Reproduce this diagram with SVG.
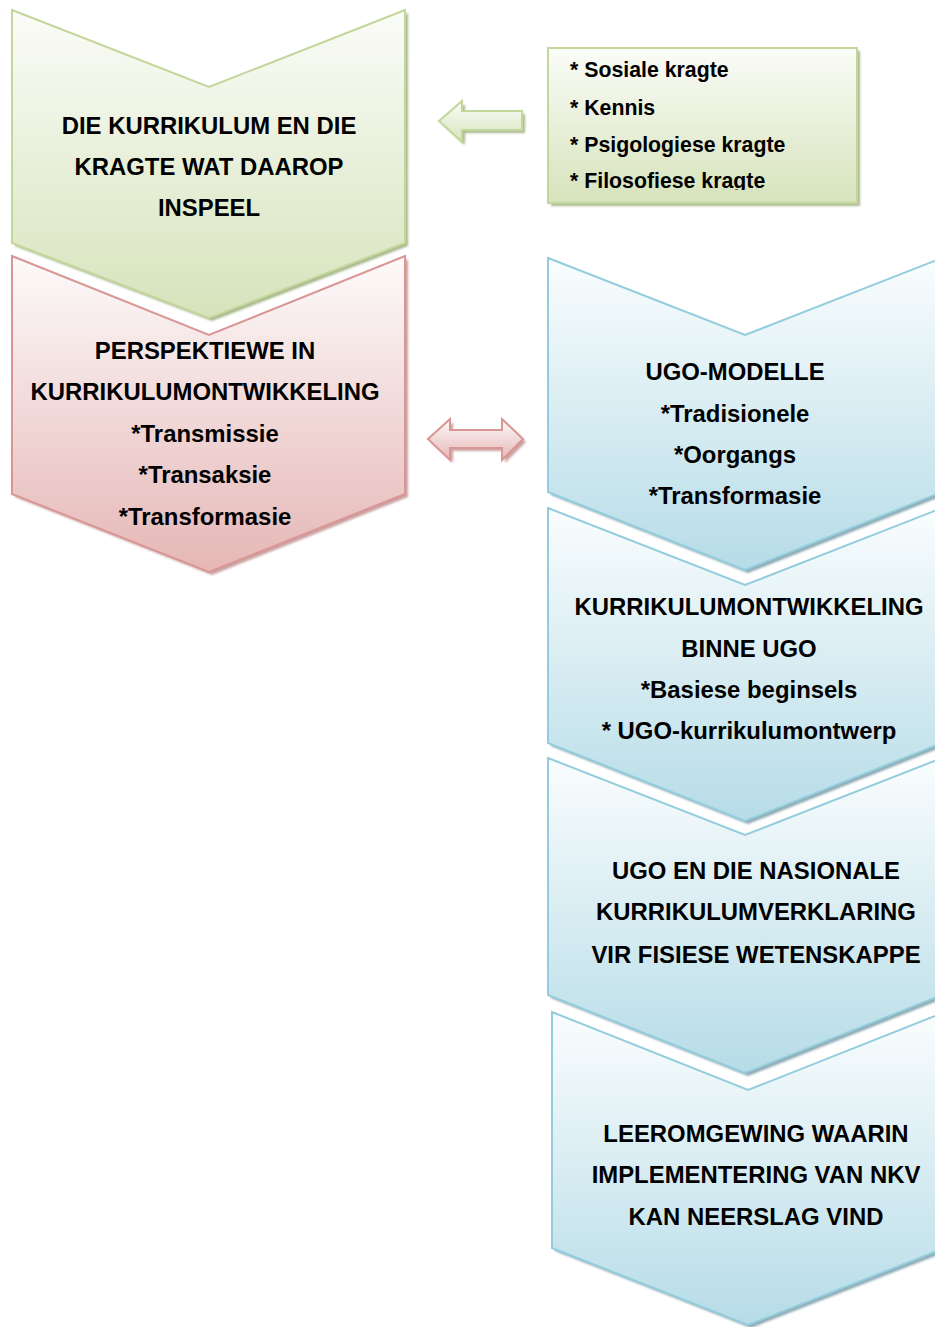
<svg xmlns="http://www.w3.org/2000/svg" width="935" height="1327" viewBox="0 0 935 1327">
  <style>
    text { font-family: "Liberation Sans", Arial, sans-serif; font-weight: bold; fill: #000; }
    .big { font-size: 23.9px; text-anchor: middle; }
    .list { font-size: 21.3px; }
    .g-fill { fill: url(#gradGreen); stroke: #c3d69b; stroke-width: 2; }
    .r-fill { fill: url(#gradRed); stroke: #d99694; stroke-width: 2; }
    .b-fill { fill: url(#gradBlue); stroke: #93cddd; stroke-width: 2; }
    .g-shadow { fill: #a9b98d; }
    .r-shadow { fill: #c9a2a1; }
    .b-shadow { fill: #8fabb5; }
  </style>
  <defs>
    <linearGradient id="gradGreen" x1="0" y1="0" x2="0" y2="1">
      <stop offset="0" stop-color="#fbfcf8"/>
      <stop offset="1" stop-color="#d6e3bb"/>
    </linearGradient>
    <linearGradient id="gradRed" x1="0" y1="0" x2="0" y2="1">
      <stop offset="0" stop-color="#fdfafa"/>
      <stop offset="1" stop-color="#e5b7b6"/>
    </linearGradient>
    <linearGradient id="gradBlue" x1="0" y1="0" x2="0" y2="1">
      <stop offset="0" stop-color="#fafdfe"/>
      <stop offset="1" stop-color="#b6dce7"/>
    </linearGradient>
    <filter id="soft" x="-5%" y="-5%" width="110%" height="110%">
      <feGaussianBlur stdDeviation="0.8"/>
    </filter>
    <clipPath id="listClip">
      <rect x="548" y="48" width="309" height="142"/>
    </clipPath>
  </defs>

  <rect width="935" height="1327" fill="#ffffff"/>

  <!-- Red chevron (drawn first so the green one sits above it) -->
  <g id="node-perspektiewe">
    <path class="r-shadow" filter="url(#soft)" transform="translate(3,3)" d="M12,256 L209,335 L405,256 L405,494 L209,572 L12,494 Z"/>
    <path class="r-fill" d="M12,256 L209,335 L405,256 L405,494 L209,572 L12,494 Z"/>
    <text class="big" x="205" y="359">PERSPEKTIEWE IN</text>
    <text class="big" x="205" y="400">KURRIKULUMONTWIKKELING</text>
    <text class="big" x="205" y="442">*Transmissie</text>
    <text class="big" x="205" y="483">*Transaksie</text>
    <text class="big" x="205" y="525">*Transformasie</text>
  </g>

  <!-- Green chevron -->
  <g id="node-kurrikulum">
    <path class="g-shadow" filter="url(#soft)" transform="translate(3,3)" d="M12,10 L209,87 L405,10 L405,243 L209,318 L12,243 Z"/>
    <path class="g-fill" d="M12,10 L209,87 L405,10 L405,243 L209,318 L12,243 Z"/>
    <text class="big" x="209" y="134">DIE KURRIKULUM EN DIE</text>
    <text class="big" x="209" y="175">KRAGTE WAT DAAROP</text>
    <text class="big" x="209" y="216">INSPEEL</text>
  </g>

  <!-- Forces list box -->
  <g id="node-kragte">
    <rect class="g-shadow" filter="url(#soft)" x="551" y="51" width="309" height="155"/>
    <rect class="g-fill" x="548" y="48" width="309" height="155"/>
    <g clip-path="url(#listClip)">
      <text class="list" x="570" y="77">* Sosiale kragte</text>
      <text class="list" x="570" y="115">* Kennis</text>
      <text class="list" x="570" y="152">* Psigologiese kragte</text>
      <text class="list" x="570" y="188">* Filosofiese kragte</text>
    </g>
  </g>

  <!-- Blue chevrons, bottom to top so each upper one overlaps the next -->
  <g id="node-leeromgewing">
    <path class="b-shadow" filter="url(#soft)" transform="translate(3,3)" d="M552,1012 L748,1090 L945,1012 L945,1248 L748,1325 L552,1248 Z"/>
    <path class="b-fill" d="M552,1012 L748,1090 L945,1012 L945,1248 L748,1325 L552,1248 Z"/>
    <text class="big" x="756" y="1142">LEEROMGEWING WAARIN</text>
    <text class="big" x="756" y="1183">IMPLEMENTERING VAN NKV</text>
    <text class="big" x="756" y="1225">KAN NEERSLAG VIND</text>
  </g>

  <g id="node-nkv">
    <path class="b-shadow" filter="url(#soft)" transform="translate(3,3)" d="M548,758 L745,835 L942,758 L942,995 L745,1073 L548,995 Z"/>
    <path class="b-fill" d="M548,758 L745,835 L942,758 L942,995 L745,1073 L548,995 Z"/>
    <text class="big" x="756" y="879">UGO EN DIE NASIONALE</text>
    <text class="big" x="756" y="920">KURRIKULUMVERKLARING</text>
    <text class="big" x="756" y="963">VIR FISIESE WETENSKAPPE</text>
  </g>

  <g id="node-ontwikkeling-ugo">
    <path class="b-shadow" filter="url(#soft)" transform="translate(3,3)" d="M548,508 L745,585 L942,508 L942,743 L745,821 L548,743 Z"/>
    <path class="b-fill" d="M548,508 L745,585 L942,508 L942,743 L745,821 L548,743 Z"/>
    <text class="big" x="749" y="615">KURRIKULUMONTWIKKELING</text>
    <text class="big" x="749" y="657">BINNE UGO</text>
    <text class="big" x="749" y="698">*Basiese beginsels</text>
    <text class="big" x="749" y="739">* UGO-kurrikulumontwerp</text>
  </g>

  <g id="node-ugo-modelle">
    <path class="b-shadow" filter="url(#soft)" transform="translate(3,3)" d="M548,258 L745,335 L942,258 L942,492 L745,570 L548,492 Z"/>
    <path class="b-fill" d="M548,258 L745,335 L942,258 L942,492 L745,570 L548,492 Z"/>
    <text class="big" x="735" y="380">UGO-MODELLE</text>
    <text class="big" x="735" y="422">*Tradisionele</text>
    <text class="big" x="735" y="463">*Oorgangs</text>
    <text class="big" x="735" y="504">*Transformasie</text>
  </g>

  <!-- Block-arrow connectors -->
  <g id="connectors">
    <g id="arrow-kragte">
      <path class="g-shadow" filter="url(#soft)" transform="translate(3,3)" d="M439,121 L462,101 L462,111 L522,111 L522,130 L462,130 L462,142 Z"/>
      <path class="g-fill" d="M439,121 L462,101 L462,111 L522,111 L522,130 L462,130 L462,142 Z"/>
    </g>
    <g id="arrow-perspektiewe-ugo">
      <path class="r-shadow" filter="url(#soft)" transform="translate(3,3)" d="M428,439 L450,419 L450,430 L502,430 L502,419 L523,439 L502,460 L502,448 L450,448 L450,460 Z"/>
      <path class="r-fill" d="M428,439 L450,419 L450,430 L502,430 L502,419 L523,439 L502,460 L502,448 L450,448 L450,460 Z"/>
    </g>
  </g>
</svg>
